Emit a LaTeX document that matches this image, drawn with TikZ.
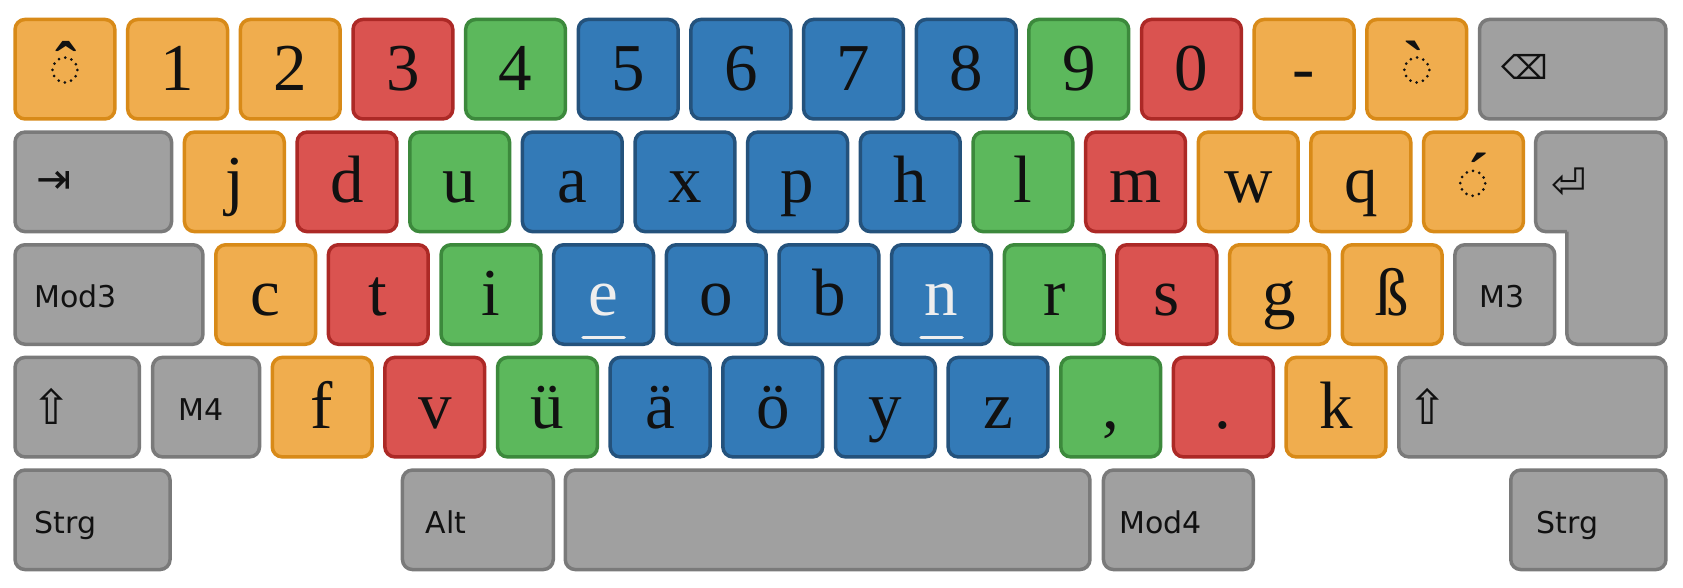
\documentclass[tikz,border=0pt]{standalone}
\usepackage{fontspec}
\setmainfont{Liberation Serif}
\newfontfamily\djv{DejaVu Sans}
\newfontfamily\accf{Liberation Serif}
\usetikzlibrary{calc}
\definecolor{orF}{RGB}{240,173,78}
\definecolor{orD}{RGB}{216,138,24}
\definecolor{reF}{RGB}{218,83,80}
\definecolor{reD}{RGB}{172,41,38}
\definecolor{grF}{RGB}{92,184,92}
\definecolor{grD}{RGB}{60,137,60}
\definecolor{blF}{RGB}{51,122,183}
\definecolor{blD}{RGB}{36,82,124}
\definecolor{gyF}{RGB}{160,160,160}
\definecolor{gyD}{RGB}{122,122,122}
\definecolor{txt}{RGB}{17,17,17}
\definecolor{wtx}{RGB}{238,238,238}
\tikzset{
  keybox/.style={rectangle, rounded corners=10pt, line width=3.5pt, inner sep=0pt, outer sep=0pt, minimum height=99.5pt},
  kor/.style={keybox, fill=orF, draw=orD},
  kre/.style={keybox, fill=reF, draw=reD},
  kgr/.style={keybox, fill=grF, draw=grD},
  kbl/.style={keybox, fill=blF, draw=blD},
  kgy/.style={keybox, fill=gyF, draw=gyD},
  ltr/.style={anchor=base, inner sep=0pt, text=txt, font=\fontsize{67}{67}\selectfont},
  wltr/.style={ltr, text=wtx},
  acc/.style={anchor=north, inner sep=0pt, text=txt, font=\accf\bfseries\fontsize{64}{64}\selectfont},
  mod/.style={anchor=base west, inner sep=0pt, text=txt, font=\djv\fontsize{30}{30}\selectfont},
  sym/.style={anchor=center, inner sep=0pt, text=txt},
  dotc/.style={draw=txt, line width=3pt, line cap=round, dash pattern=on 0pt off 6.54pt},
  homebar/.style={draw=wtx, line width=3.5pt, line cap=round},
  enterkey/.style={fill=gyF, draw=gyD, line width=3.5pt, line cap=square, line join=miter},
}
% box only: name, left x, top y, width, style
\newcommand\KB[5]{\node[#5, minimum width=#4pt-3.5pt] (#1) at ({#2+#4/2},{#3+51.5}) {};}
% box + letter: name, left x, top y, width, style, text style, label
\newcommand\KL[7]{\KB{#1}{#2}{#3}{#4}{#5}\node[#6] (#1-t) at ({#2+#4/2},{#3+72.5}) {#7};}
\def\ra{17.7}
\def\rb{130.35}
\def\rc{243}
\def\rd{355.65}
\def\re{468.3}
\def\kw{103.3}
\def\u{112.65}
\begin{document}
\begin{tikzpicture}[x=1pt,y=-1pt]
\fill[white] (0,0) rectangle (1683,588);
\useasboundingbox (0,0) rectangle (1683,588);
% ---- row 1
\KB{kcirc}{13.3}{\ra}{\kw}{kor}
\KL{kone}{13.3+1*\u}{\ra}{\kw}{kor}{ltr}{1}
\KL{ktwo}{13.3+2*\u}{\ra}{\kw}{kor}{ltr}{2}
\KL{kthree}{13.3+3*\u}{\ra}{\kw}{kre}{ltr}{3}
\KL{kfour}{13.3+4*\u}{\ra}{\kw}{kgr}{ltr}{4}
\KL{kfive}{13.3+5*\u}{\ra}{\kw}{kbl}{ltr}{5}
\KL{ksix}{13.3+6*\u}{\ra}{\kw}{kbl}{ltr}{6}
\KL{kseven}{13.3+7*\u}{\ra}{\kw}{kbl}{ltr}{7}
\KL{keight}{13.3+8*\u}{\ra}{\kw}{kbl}{ltr}{8}
\KL{knine}{13.3+9*\u}{\ra}{\kw}{kgr}{ltr}{9}
\KL{kzero}{13.3+10*\u}{\ra}{\kw}{kre}{ltr}{0}
\KL{kminus}{13.3+11*\u}{\ra}{\kw}{kor}{ltr}{-}
\KB{kgrave}{13.3+12*\u}{\ra}{\kw}{kor}
\KB{kbs}{1477.75}{\ra}{189.95}{kgy}
% dead keys
\draw[dotc] ($(kcirc.center)+(0,0.8)$) circle[radius=12.5];
\node[acc] (kcirc-t) at (66.2,40.7) {\char"02C6};
\draw[dotc] ($(kgrave.center)+(0,0.8)$) circle[radius=12.5];
\node[acc] (kgrave-t) at (1414.2,40.7) {\char"0060};
\node[sym, font=\djv\fontsize{33}{33}\selectfont] (kbs-t) at (1525.3,66.7) {⌫};
% ---- row 2
\KB{ktab}{13.3}{\rb}{160}{kgy}
\node[sym, font=\djv\fontsize{42}{42}\selectfont] (ktab-t) at (53.9,182.7) {⇥};
\KL{kj}{182.7+0*\u}{\rb}{\kw}{kor}{ltr}{j}
\KL{kd}{182.7+1*\u}{\rb}{\kw}{kre}{ltr}{d}
\KL{ku}{182.7+2*\u}{\rb}{\kw}{kgr}{ltr}{u}
\KL{ka}{182.7+3*\u}{\rb}{\kw}{kbl}{ltr}{a}
\KL{kx}{182.7+4*\u}{\rb}{\kw}{kbl}{ltr}{x}
\KL{kp}{182.7+5*\u}{\rb}{\kw}{kbl}{ltr}{p}
\KL{kh}{182.7+6*\u}{\rb}{\kw}{kbl}{ltr}{h}
\KL{kl}{182.7+7*\u}{\rb}{\kw}{kgr}{ltr}{l}
\KL{km}{182.7+8*\u}{\rb}{\kw}{kre}{ltr}{m}
\KL{kw}{182.7+9*\u}{\rb}{\kw}{kor}{ltr}{w}
\KL{kq}{182.7+10*\u}{\rb}{\kw}{kor}{ltr}{q}
\KB{kacute}{182.7+11*\u}{\rb}{\kw}{kor}
\draw[dotc] ($(kacute.center)+(-0.8,1.5)$) circle[radius=12.5];
\node[acc] (kacute-t) at (1477.9,153.3) {\char"00B4};
% enter key
\draw[enterkey] (1566.95,231.6) [rounded corners=10pt] -- (1535.65,231.6) -- (1535.65,132.1) -- (1665.95,132.1) -- (1665.95,344.25) -- (1566.95,344.25) -- (1566.95,231.6);
\node[sym, font=\djv\fontsize{42}{42}\selectfont] (kenter-t) at (1568.9,183) {⏎};
% ---- row 3
\KB{kmodthree}{13.3}{\rc}{191.4}{kgy}
\node[mod] (kmodthree-t) at (34,\rc+64.7) {Mod3};
\KL{kc}{214+0*\u}{\rc}{\kw}{kor}{ltr}{c}
\KL{kt}{214+1*\u}{\rc}{\kw}{kre}{ltr}{t}
\KL{ki}{214+2*\u}{\rc}{\kw}{kgr}{ltr}{i}
\KL{ke}{214+3*\u}{\rc}{\kw}{kbl}{wltr}{e}
\KL{ko}{214+4*\u}{\rc}{\kw}{kbl}{ltr}{o}
\KL{kb}{214+5*\u}{\rc}{\kw}{kbl}{ltr}{b}
\KL{kn}{214+6*\u}{\rc}{\kw}{kbl}{wltr}{n}
\KL{kr}{214+7*\u}{\rc}{\kw}{kgr}{ltr}{r}
\KL{ks}{214+8*\u}{\rc}{\kw}{kre}{ltr}{s}
\KL{kg}{214+9*\u}{\rc}{\kw}{kor}{ltr}{g}
\KL{kss}{214+10*\u}{\rc}{\kw}{kor}{ltr}{ß}
\KB{kmthree}{214+11*\u}{\rc}{\kw}{kgy}
\node[mod] (kmthree-t) at (1479,\rc+64.7) {M3};
\draw[homebar] ($(ke.center)+(-20.5,42.8)$) -- ($(ke.center)+(20.5,42.8)$);
\draw[homebar] ($(kn.center)+(-20.5,42.8)$) -- ($(kn.center)+(20.5,42.8)$);
% ---- row 4
\KB{klshift}{13.3}{\rd}{127.9}{kgy}
\node[sym, font=\djv\fontsize{48}{48}\selectfont] (klshift-t) at (52,406.5) {⇧};
\KB{kmfour}{150.8}{\rd}{110.5}{kgy}
\node[mod] (kmfour-t) at (178,\rd+64.7) {M4};
\KL{kf}{270.5+0*\u}{\rd}{\kw}{kor}{ltr}{f}
\KL{kv}{270.5+1*\u}{\rd}{\kw}{kre}{ltr}{v}
\KL{kue}{270.5+2*\u}{\rd}{\kw}{kgr}{ltr}{ü}
\KL{kae}{270.5+3*\u}{\rd}{\kw}{kbl}{ltr}{ä}
\KL{koe}{270.5+4*\u}{\rd}{\kw}{kbl}{ltr}{ö}
\KL{ky}{270.5+5*\u}{\rd}{\kw}{kbl}{ltr}{y}
\KL{kz}{270.5+6*\u}{\rd}{\kw}{kbl}{ltr}{z}
\KL{kcomma}{270.5+7*\u}{\rd}{\kw}{kgr}{ltr}{,}
\KL{kperiod}{270.5+8*\u}{\rd}{\kw}{kre}{ltr}{.}
\KL{kk}{270.5+9*\u}{\rd}{\kw}{kor}{ltr}{k}
\KB{krshift}{1397}{\rd}{270.7}{kgy}
\node[sym, font=\djv\fontsize{48}{48}\selectfont] (krshift-t) at (1428,406.5) {⇧};
% ---- row 5
\KB{klctrl}{13.3}{\re}{158.5}{kgy}
\node[mod] (klctrl-t) at (34.5,\re+64.7) {Strg};
\KB{kalt}{400.7}{\re}{154.3}{kgy}
\node[mod] (kalt-t) at (425.5,\re+64.7) {Alt};
\KB{kspace}{563.5}{\re}{528.2}{kgy}
\KB{kmodfour}{1101.7}{\re}{153.3}{kgy}
\node[mod] (kmodfour-t) at (1119.1,\re+64.7) {Mod4};
\KB{krctrl}{1509}{\re}{158.7}{kgy}
\node[mod] (krctrl-t) at (1536.7,\re+64.7) {Strg};
\end{tikzpicture}
\end{document}
